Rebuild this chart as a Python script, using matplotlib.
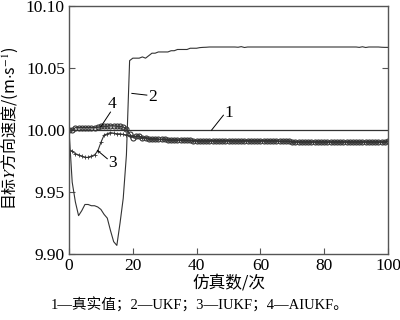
import numpy as np
import matplotlib.pyplot as plt

plt.rcParams['font.family'] = ['Liberation Serif', 'Noto Sans CJK SC']
plt.rcParams['mathtext.fontset'] = 'stix'

# -----------------------------
# data
# -----------------------------
runs = np.arange(0, 101)

true_val = [10.000] * 101

ukf = [10.000, 9.958, 9.942, 9.931, 9.935, 9.940, 9.940, 9.939, 9.939, 9.938,
       9.936, 9.932, 9.929, 9.919, 9.910, 9.907, 9.925, 9.945, 9.980, 10.056,
       10.058, 10.058, 10.058, 10.059, 10.058, 10.060, 10.062, 10.062, 10.063, 10.063,
       10.063, 10.063, 10.064, 10.064, 10.065, 10.065, 10.065, 10.065, 10.066, 10.066,
       10.066, 10.0665, 10.0667, 10.0668, 10.067, 10.067, 10.067, 10.067, 10.067, 10.067,
       10.067, 10.067, 10.067, 10.0668, 10.0673, 10.0666, 10.067, 10.067, 10.067, 10.067,
       10.067, 10.067, 10.067, 10.067, 10.067, 10.067, 10.067, 10.067, 10.067, 10.067,
       10.067, 10.067, 10.067, 10.067, 10.067, 10.067, 10.067, 10.067, 10.067, 10.067,
       10.067, 10.067, 10.067, 10.067, 10.067, 10.067, 10.067, 10.067, 10.067, 10.067,
       10.067, 10.0667, 10.0672, 10.0666, 10.067, 10.067, 10.067, 10.067, 10.0668, 10.0667,
       10.0667]

aiukf_tail = [9.995, 9.995, 9.994, 9.994, 9.993, 9.993, 9.993, 9.9925, 9.9925,
              9.9925, 9.992, 9.992, 9.992, 9.992, 9.992, 9.992, 9.9918, 9.9916, 9.9915,
              9.9915, 9.9915, 9.9915, 9.9915, 9.9915, 9.9915, 9.9915, 9.9915, 9.9915, 9.9915,
              9.9915, 9.9915, 9.9915, 9.9915, 9.9915, 9.9915, 9.9915, 9.9915, 9.9915, 9.9915,
              9.9915, 9.9915, 9.9915, 9.9915, 9.9915, 9.9915, 9.991, 9.991, 9.991, 9.991,
              9.9905, 9.9905, 9.9905, 9.9905, 9.9905, 9.9905, 9.9905, 9.9905, 9.9905, 9.9905,
              9.9905, 9.9905, 9.9905, 9.9905, 9.9905, 9.9905, 9.9905, 9.9905, 9.9905, 9.9905,
              9.9905, 9.9905, 9.9905, 9.9905, 9.9905, 9.9905, 9.9905, 9.9905, 9.9905, 9.9905,
              9.991]

aiukf = [10.000, 10.000, 10.002, 10.002, 10.002, 10.002, 10.002, 10.002, 10.002, 10.0022,
         10.003, 10.003, 10.003, 10.0035, 10.0035, 10.003, 10.003, 10.0025, 10.001, 9.997,
         9.994] + aiukf_tail

iukf = [9.984, 9.983, 9.981, 9.980, 9.979, 9.978, 9.978, 9.979, 9.980, 9.983,
        9.990, 9.996, 9.997, 9.998, 9.9975, 9.997, 9.997, 9.9965, 9.996, 9.9955,
        9.995] + aiukf_tail

caption = "1—真实值；2—UKF；3—IUKF；4—AIUKF。"

# -----------------------------
# plot
# -----------------------------
fig = plt.figure(figsize=(4.0, 3.2), dpi=100)
ax = fig.add_axes([0.1725, 0.206, 0.7975, 0.775])

ink = '#333333'
ax.plot(runs, true_val, color=ink, lw=0.9)
ax.plot(runs, ukf, color=ink, lw=0.8)
ax.plot(runs, iukf, color=ink, lw=0.8, marker='+', ms=2.2, mew=0.6)
ax.plot(runs, aiukf, color=ink, lw=0.8, marker='o', ms=3.6, mfc='none', mew=0.8)

ax.set_xlim(0, 100)
ax.set_ylim(9.90, 10.10)
ax.set_xticks([0, 20, 40, 60, 80, 100])
ax.set_yticks([9.90, 9.95, 10.00, 10.05, 10.10])
ax.set_yticklabels(['9.90', '9.95', '10.00', '10.05', '10.10'])
ax.tick_params(direction='in', length=4, width=0.8, color='#555555',
               labelsize=12.5, pad=3)
for s in ax.spines.values():
    s.set_color('#555555')
    s.set_linewidth(1.0)

sec = ax.secondary_yaxis('right')
sec.set_yticks([10.05])
sec.tick_params(direction='in', length=4, width=0.8, color='#555555',
                labelright=False)
sec.spines['right'].set_visible(False)

# curve labels with leader lines
lab = dict(color='black', lw=0.7)
ax.plot([44.7, 48.4], [10.000, 10.012], **lab)
ax.text(50.2, 10.014, '1', fontsize=12.5, ha='center', va='center')
ax.plot([19.7, 24.4], [10.0296, 10.0282], **lab)
ax.text(26.3, 10.027, '2', fontsize=12.5, ha='center', va='center')
ax.plot([8.9, 12.0], [9.9836, 9.9769], **lab)
ax.text(13.6, 9.9735, '3', fontsize=12.5, ha='center', va='center')
ax.plot([9.9, 13.0], [10.0024, 10.0145], **lab)
ax.text(13.5, 10.021, '4', fontsize=12.5, ha='center', va='center')

fig.text(0.572, 0.116, '仿真数/次', fontsize=12, ha='center', va='center',
         family=['Noto Sans CJK SC', 'DejaVu Sans'])
fig.text(0.025, 0.60, r'目标$Y$方向速度/(m$\cdot$s$^{-1}$)', fontsize=11.5,
         rotation=90, ha='center', va='center', family='Noto Sans CJK SC')
fig.text(0.5, 0.047, caption, fontsize=10.5, ha='center', va='center')

fig.savefig('out.png', dpi=100)
plt.close(fig)
